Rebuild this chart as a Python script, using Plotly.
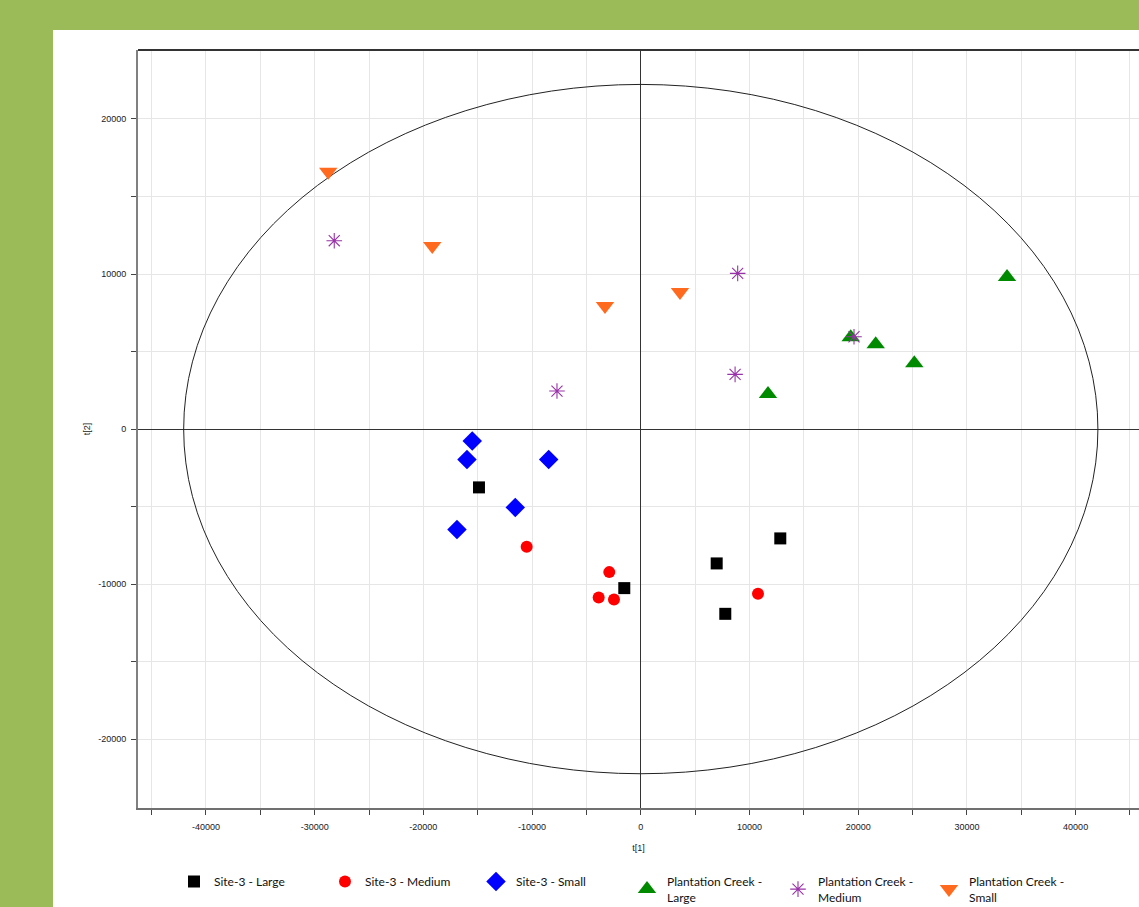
import plotly.graph_objects as go

# PCA score coordinates t[1], t[2] for each group
large_site_t1 = [-14885, -1518, 6983, 12833, 7774]
large_site_t2 = [-3761, -10258, -8665, -7052, -11916]

medium_site_t1 = [-10497, -2898, -3873, -2466, 10782]
medium_site_t2 = [-7594, -9226, -10858, -10987, -10626]

small_site_t1 = [-15501, -15989, -8473, -11545, -16909]
small_site_t2 = [-774, -1955, -1955, -5052, -6471]

large_pc_t1 = [19310, 21610, 25161, 11702, 33689]
large_pc_t2 = [5916, 5465, 4239, 2258, 9806]

medium_pc_t1 = [-28197, -7709, 8914, 8675, 19614]
medium_pc_t2 = [12148, 2452, 10045, 3529, 5955]

small_pc_t1 = [-28749, -19181, -3293, 3606]
small_pc_t2 = [16600, 11806, 7935, 8839]

series_names = [
    "Site-3 - Large",
    "Site-3 - Medium",
    "Site-3 - Small",
    "Plantation Creek -<br>Large",
    "Plantation Creek -<br>Medium",
    "Plantation Creek -<br>Small",
]

# Hotelling T2 ellipse semi-axes
ellipse_a = 42050
ellipse_b = 22230

x_ticks = list(range(-45000, 45001, 5000))
y_ticks = list(range(-20000, 20001, 5000))

W, H = 1139, 907
ML, MR, MT, MB = 138, 0, 50, 99
PW, PH = W - ML - MR, H - MT - MB


def px_x(p):
    return (p - ML) / PW


def px_y(p):
    return (H - MB - p) / PH


styles = [
    dict(symbol="square", size=12, color="#000000"),
    dict(symbol="circle", size=12, color="#FF0000"),
    dict(symbol="diamond", size=15, color="#0000FF"),
    dict(symbol="triangle-up", size=16, color="#008A00"),
    dict(symbol="asterisk-open", size=13, color="#9932A8"),
    dict(symbol="triangle-down", size=16, color="#FF6A1F"),
]
data = [
    (large_site_t1, large_site_t2),
    (medium_site_t1, medium_site_t2),
    (small_site_t1, small_site_t2),
    (large_pc_t1, large_pc_t2),
    (medium_pc_t1, medium_pc_t2),
    (small_pc_t1, small_pc_t2),
]

fig = go.Figure()
for name, (xs, ys), st in zip(series_names, data, styles):
    marker = dict(symbol=st["symbol"], size=st["size"], color=st["color"])
    if st["symbol"] == "asterisk-open":
        marker["line"] = dict(color=st["color"], width=1.1)
    else:
        marker["line"] = dict(width=0)
    fig.add_trace(go.Scatter(x=xs, y=ys, mode="markers", name=name, marker=marker))

shapes = [
    # green page frame behind the white card
    dict(type="rect", xref="paper", yref="paper",
         x0=px_x(0), x1=px_x(W), y0=px_y(H), y1=px_y(0),
         fillcolor="#9BBB59", line=dict(width=0), layer="below"),
    dict(type="rect", xref="paper", yref="paper",
         x0=px_x(53), x1=px_x(W + 5), y0=px_y(H + 5), y1=px_y(30),
         fillcolor="#FFFFFF", line=dict(width=0), layer="below"),
    # confidence ellipse
    dict(type="circle", xref="x", yref="y",
         x0=-ellipse_a, x1=ellipse_a, y0=-ellipse_b, y1=ellipse_b,
         line=dict(color="#222222", width=1), layer="between"),
    # top frame line
    dict(type="line", xref="paper", yref="paper", x0=0, x1=1, y0=1, y1=1,
         line=dict(color="#333333", width=2)),
]

tick_font = dict(family="Liberation Sans, Arial, sans-serif", size=9, color="#1A1A1A")

fig.update_layout(
    width=W, height=H,
    margin=dict(l=ML, r=MR, t=MT, b=MB, autoexpand=False),
    paper_bgcolor="#9BBB59",
    plot_bgcolor="#FFFFFF",
    shapes=shapes,
    showlegend=True,
    legend=dict(
        orientation="h", x=px_x(174), y=px_y(867), xanchor="left", yanchor="top",
        font=dict(family="Lato, sans-serif", size=12, color="#111111"),
        entrywidth=106, entrywidthmode="pixels", bgcolor="rgba(0,0,0,0)",
        itemclick=False,
    ),
    xaxis=dict(
        range=[-46250, 45830], tickvals=x_ticks,
        ticktext=[f"{v}" if v % 10000 == 0 else "" for v in x_ticks],
        ticks="outside", ticklen=5, tickcolor="#444444", tickwidth=1,
        tickfont=tick_font, ticklabelstandoff=4,
        showgrid=True, gridcolor="#E6E6E6", gridwidth=1,
        zeroline=True, zerolinecolor="#333333", zerolinewidth=1,
        showline=True, linecolor="#707070", linewidth=2,
        title=dict(text="t[1]", font=tick_font, standoff=14),
    ),
    yaxis=dict(
        range=[-24440, 24450], tickvals=y_ticks,
        ticktext=[f"{v}" if v % 10000 == 0 else "" for v in y_ticks],
        ticks="outside", ticklen=5, tickcolor="#444444", tickwidth=1,
        tickfont=tick_font, ticklabelstandoff=3,
        showgrid=True, gridcolor="#E6E6E6", gridwidth=1,
        zeroline=True, zerolinecolor="#333333", zerolinewidth=1,
        showline=True, linecolor="#808080", linewidth=2,
        title=dict(text="t[2]", font=tick_font, standoff=6),
    ),
)

fig.write_html("out.html")
